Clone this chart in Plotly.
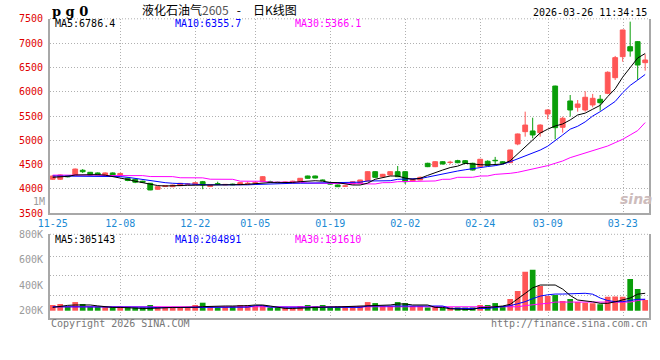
import plotly.graph_objects as go

# ---------------- data ----------------
dates = ["11-25", "11-26", "11-27", "11-28",
         "12-01", "12-02", "12-03", "12-04", "12-05",
         "12-08", "12-09", "12-10", "12-11", "12-12",
         "12-15", "12-16", "12-17", "12-18", "12-19",
         "12-22", "12-23", "12-24", "12-25", "12-26",
         "12-29", "12-30", "12-31",
         "01-05", "01-06", "01-07", "01-08", "01-09",
         "01-12", "01-13", "01-14", "01-15", "01-16",
         "01-19", "01-20", "01-21", "01-22", "01-23",
         "01-26", "01-27", "01-28", "01-29", "01-30",
         "02-02", "02-03", "02-04", "02-05", "02-06",
         "02-09", "02-10", "02-11", "02-12", "02-13",
         "02-24", "02-25", "02-26", "02-27",
         "03-02", "03-03", "03-04", "03-05", "03-06",
         "03-09", "03-10", "03-11", "03-12", "03-13",
         "03-16", "03-17", "03-18", "03-19", "03-20",
         "03-23", "03-24", "03-25", "03-26"]

opens = [4200, 4200, 4270, 4290, 4385, 4343, 4330, 4288, 4330, 4290,
         4220, 4199, 4160, 4117, 3994, 4050, 4047, 4068, 4095, 4090,
         4150, 4050, 4110, 4085, 4100, 4090, 4110, 4120, 4150, 4150,
         4140, 4130, 4130, 4150, 4267, 4267, 4185, 4120, 4082, 4055,
         4103, 4117, 4164, 4356, 4253, 4288, 4356, 4356, 4164, 4185,
         4528, 4459, 4561, 4545, 4582, 4582, 4528, 4459, 4570, 4590,
         4560, 4541, 4926, 5179, 5193, 5158, 5542, 6117, 5269, 5810,
         5680, 5625, 5728, 5845, 5968, 6289, 6721, 6927, 7030, 6598]
highs = [4280, 4300, 4285, 4420, 4410, 4350, 4340, 4340, 4340, 4330,
         4240, 4210, 4170, 4120, 4050, 4075, 4090, 4125, 4120, 4135,
         4165, 4085, 4150, 4100, 4110, 4135, 4150, 4140, 4260, 4170,
         4150, 4150, 4170, 4225, 4275, 4275, 4195, 4130, 4090, 4075,
         4160, 4190, 4360, 4365, 4310, 4365, 4473, 4365, 4210, 4255,
         4540, 4570, 4570, 4580, 4600, 4595, 4540, 4620, 4590, 4660,
         4570, 4810, 5140, 5590, 5466, 5330, 5640, 6125, 5487, 5933,
         5830, 6010, 5955, 5933, 6420, 6736, 7275, 7441, 7040, 6771]
lows = [4190, 4190, 4240, 4285, 4330, 4280, 4280, 4280, 4270, 4280,
        4160, 4120, 4130, 3975, 3990, 4045, 4040, 4060, 4085, 4085,
        3995, 4045, 4090, 4080, 4080, 4085, 4090, 4110, 4145, 4130,
        4125, 4125, 4110, 4145, 4215, 4220, 4170, 4095, 4040, 4050,
        4100, 4110, 4160, 4235, 4250, 4280, 4245, 4103, 4155, 4180,
        4450, 4450, 4505, 4510, 4530, 4520, 4380, 4450, 4475, 4515,
        4520, 4535, 4900, 5076, 5043, 5076, 5433, 5022, 5158, 5487,
        5590, 5590, 5680, 5610, 5950, 6242, 6618, 6721, 6242, 6433]
closes = [4267, 4288, 4250, 4410, 4355, 4288, 4290, 4330, 4275, 4320,
          4175, 4140, 4140, 3980, 4047, 4070, 4080, 4117, 4105, 4130,
          4082, 4080, 4095, 4095, 4085, 4130, 4118, 4130, 4253, 4135,
          4130, 4145, 4160, 4220, 4220, 4225, 4175, 4100, 4047, 4065,
          4150, 4185, 4356, 4240, 4302, 4356, 4253, 4150, 4199, 4240,
          4459, 4561, 4514, 4552, 4541, 4528, 4390, 4611, 4485, 4580,
          4530, 4802, 5131, 5315, 5111, 5315, 5625, 5261, 5454, 5625,
          5748, 5886, 5865, 5775, 6400, 6701, 7270, 6838, 6550, 6653]

ma5 = [4240, 4245, 4260, 4288, 4295, 4300, 4295, 4285, 4260, 4235,
       4195, 4160, 4130, 4097, 4070, 4062, 4062, 4068, 4075, 4078,
       4078, 4075, 4078, 4082, 4085, 4090, 4097, 4110, 4130, 4132,
       4130, 4130, 4135, 4150, 4165, 4170, 4160, 4135, 4130, 4110,
       4082, 4082, 4120, 4200, 4230, 4267, 4267, 4225, 4199, 4220,
       4280, 4340, 4390, 4440, 4470, 4528, 4510, 4500, 4494, 4500,
       4514, 4580, 4720, 4880, 5010, 5150, 5230, 5296, 5337, 5420,
       5522, 5560, 5640, 5720, 5900, 6060, 6300, 6500, 6693, 6786.4]
ma10 = [4267, 4267, 4268, 4267, 4266, 4267, 4267, 4265, 4260, 4255,
        4240, 4215, 4195, 4170, 4145, 4130, 4118, 4108, 4100, 4095,
        4090, 4086, 4083, 4082, 4082, 4082, 4085, 4092, 4100, 4105,
        4110, 4113, 4117, 4118, 4122, 4126, 4130, 4130, 4130, 4130,
        4132, 4140, 4164, 4165, 4166, 4170, 4199, 4200, 4200, 4215,
        4245, 4280, 4310, 4335, 4370, 4395, 4420, 4450, 4462, 4480,
        4510, 4560, 4620, 4680, 4730, 4800, 4880, 4990, 5111, 5230,
        5290, 5380, 5500, 5590, 5700, 5800, 5980, 6130, 6240, 6355.7]
ma30 = [4285, 4286, 4285, 4285, 4284, 4285, 4285, 4276, 4275, 4275,
        4274, 4275, 4275, 4256, 4255, 4255, 4254, 4231, 4230, 4230,
        4229, 4201, 4200, 4200, 4199, 4161, 4160, 4160, 4159, 4141,
        4140, 4140, 4140, 4139, 4121, 4120, 4119, 4104, 4103, 4103,
        4103, 4102, 4103, 4103, 4130, 4131, 4150, 4150, 4151, 4150,
        4164, 4165, 4199, 4200, 4240, 4240, 4241, 4267, 4268, 4300,
        4308, 4322, 4343, 4376, 4411, 4452, 4480, 4528, 4576, 4644,
        4693, 4734, 4782, 4837, 4884, 4953, 5022, 5111, 5200, 5366.1]

volume = [245000, 253000, 231000, 268000, 253000, 231000, 232000, 230000, 231000, 232000,
          231000, 226000, 226000, 245000, 231000, 226000, 227000, 226000, 225000, 245000,
          263000, 237000, 226000, 231000, 237000, 245000, 244000, 237000, 245000, 226000,
          226000, 227000, 226000, 237000, 245000, 237000, 245000, 226000, 237000, 236000,
          237000, 238000, 268000, 260000, 237000, 236000, 268000, 260000, 237000, 238000,
          226000, 237000, 226000, 227000, 226000, 225000, 226000, 245000, 245000, 260000,
          237000, 292000, 355000, 506000, 522000, 394000, 315000, 323000, 276000, 292000,
          268000, 262000, 258000, 250000, 310000, 311000, 310000, 449000, 370000, 284000]
vol_ma5 = [226000, 235000, 242000, 245000, 245000, 245000, 238000, 230000, 226000, 226000,
           222000, 218000, 218000, 218000, 222000, 226000, 226000, 226000, 226000, 228000,
           232000, 235000, 237000, 237000, 237000, 237000, 240000, 245000, 245000, 237000,
           226000, 218000, 218000, 218000, 222000, 226000, 230000, 230000, 230000, 232000,
           232000, 235000, 237000, 240000, 245000, 245000, 253000, 253000, 245000, 245000,
           245000, 226000, 226000, 215000, 210000, 210000, 210000, 226000, 226000, 230000,
           237000, 250000, 290000, 336000, 380000, 402000, 402000, 402000, 370000, 320000,
           284000, 278000, 270000, 258000, 258000, 270000, 285000, 300000, 330000, 337000]
vol_ma10 = [231000, 231000, 231000, 231000, 231000, 231000, 231000, 231000, 231000, 231000,
            228000, 228000, 228000, 228000, 224000, 224000, 224000, 224000, 224000, 224000,
            228000, 228000, 228000, 228000, 228000, 228000, 228000, 240000, 240000, 228000,
            228000, 228000, 228000, 228000, 228000, 228000, 228000, 226000, 226000, 226000,
            226000, 226000, 237000, 237000, 237000, 237000, 237000, 237000, 237000, 237000,
            237000, 237000, 237000, 218000, 218000, 218000, 218000, 218000, 218000, 225000,
            231000, 240000, 255000, 271000, 295000, 315000, 325000, 331000, 331000, 333000,
            335000, 337000, 330000, 300000, 280000, 271000, 271000, 280000, 290000, 290000]
vol_ma30 = [231000, 231000, 231000, 231000, 231000, 231000, 231000, 231000, 231000, 231000,
            231000, 231000, 231000, 231000, 231000, 231000, 231000, 231000, 231000, 231000,
            231000, 231000, 231000, 231000, 231000, 231000, 231000, 231000, 231000, 231000,
            231000, 231000, 231000, 231000, 231000, 231000, 231000, 226000, 226000, 226000,
            226000, 226000, 226000, 226000, 226000, 226000, 226000, 226000, 226000, 226000,
            226000, 226000, 226000, 226000, 226000, 226000, 226000, 226000, 226000, 231000,
            231000, 231000, 231000, 240000, 248000, 253000, 258000, 268000, 268000, 268000,
            268000, 268000, 268000, 268000, 268000, 268000, 268000, 268000, 280000, 290000]

date_tick_labels = ["11-25", "12-08", "12-22", "01-05", "01-19", "02-02", "02-24", "03-09", "03-23"]
price_ticks = [3500, 4000, 4500, 5000, 5500, 6000, 6500, 7000, 7500]
vol_tick_values = [200000, 400000, 600000, 800000]
vol_tick_labels = ["200K", "400K", "600K", "800K"]
vol_grid_values = [320000, 475000, 630000]
price_ma_labels = [("MA5", 6786.4), ("MA10", 6355.7), ("MA30", 5366.1)]
vol_ma_labels = [("MA5", 305143), ("MA10", 204891), ("MA30", 191610)]
title_code = "pg0"
title_name = "液化石油气"
title_contract = "2605"
title_suffix = "日K线图"
timestamp = "2026-03-26 11:34:15"

# ---------------- styling ----------------
W, H = 660, 360
PL, PR = 50, 649.3          # plot area left/right (px)
PT, PB = 18.8, 213.3        # price panel top/bottom (px)
VT, VB = 234.3, 318.0       # volume panel top/bottom (px)
VOL_BASE = 200000
VOL_RANGE = [142670, 801000]
GRID_SHIFT = 0.1

UP = "#ff5656"
DOWN = "#0a9e0a"
GRID = "#b0b0b0"
AXIS = "#a8a8a8"
MONO = "DejaVu Sans Mono"
COLORS_MA = ["#000000", "#0000ff", "#ff00ff"]


def px(v):
    return v / W


def py(v):
    return 1 - v / H


x = list(range(len(dates)))
up = [c >= o for o, c in zip(opens, closes)]
tick_pos = [dates.index(d) for d in date_tick_labels]
grid_pos = [p + GRID_SHIFT for p in tick_pos[1:]]

fig = go.Figure()

# candles: wicks + bodies
for mask, col in ((True, UP), (False, DOWN)):
    xs, ys = [], []
    for i in x:
        if up[i] == mask:
            xs += [i, i, None]
            ys += [lows[i], highs[i], None]
    fig.add_trace(go.Scatter(x=xs, y=ys, mode="lines", line=dict(color=col, width=1),
                             xaxis="x", yaxis="y", showlegend=False, hoverinfo="skip"))
    idx = [i for i in x if up[i] == mask]
    fig.add_trace(go.Bar(x=idx,
                         base=[min(opens[i], closes[i]) for i in idx],
                         y=[abs(closes[i] - opens[i]) for i in idx],
                         width=0.64,
                         marker=dict(color=col, line=dict(color=col, width=1)),
                         xaxis="x", yaxis="y", showlegend=False, hoverinfo="skip"))

# price moving averages
for series, col in ((ma30, COLORS_MA[2]), (ma10, COLORS_MA[1]), (ma5, COLORS_MA[0])):
    fig.add_trace(go.Scatter(x=x, y=series, mode="lines", line=dict(color=col, width=1),
                             xaxis="x", yaxis="y", showlegend=False, hoverinfo="skip"))

# volume bars
for mask, col in ((True, UP), (False, DOWN)):
    idx = [i for i in x if up[i] == mask]
    fig.add_trace(go.Bar(x=idx, base=VOL_BASE, y=[volume[i] - VOL_BASE for i in idx],
                         width=0.76, marker=dict(color=col, line=dict(width=0)),
                         xaxis="x2", yaxis="y2", showlegend=False, hoverinfo="skip"))

for series, col in ((vol_ma30, COLORS_MA[2]), (vol_ma10, COLORS_MA[1]), (vol_ma5, COLORS_MA[0])):
    fig.add_trace(go.Scatter(x=x, y=series, mode="lines", line=dict(color=col, width=1),
                             xaxis="x2", yaxis="y2", showlegend=False, hoverinfo="skip"))

grid_style = dict(gridcolor=GRID, griddash="1px,2px", gridwidth=1)

fig.update_layout(
    template="none",
    width=W, height=H, margin=dict(l=0, r=0, t=0, b=0, pad=0, autoexpand=False),
    paper_bgcolor="white", plot_bgcolor="white",
    barmode="overlay", hovermode=False, showlegend=False,
    xaxis=dict(domain=[px(PL), px(PR)], range=[-0.36, 79.55], anchor="y", automargin=False,
               tickmode="array", tickvals=tick_pos, ticktext=date_tick_labels,
               ticks="", showgrid=False,
               minor=dict(tickmode="array", tickvals=grid_pos, showgrid=True, **grid_style),
               tickfont=dict(family=MONO, size=10, color="#1a8ad4"),
               showline=True, linecolor=AXIS, linewidth=2, zeroline=False),
    yaxis=dict(domain=[py(PB), py(PT)], range=[3500, 7500], anchor="x", automargin=False,
               tickmode="array", tickvals=price_ticks, ticks="", ticklabelstandoff=3,
               showgrid=True, **grid_style,
               tickfont=dict(family=MONO, size=10, color="#e00000"),
               showline=True, mirror=True, linecolor=AXIS, linewidth=2, zeroline=False),
    xaxis2=dict(domain=[px(PL), px(PR)], matches="x", anchor="y2", automargin=False,
                tickmode="array", tickvals=grid_pos, showticklabels=False, ticks="",
                showgrid=True, **grid_style,
                showline=True, linecolor=AXIS, linewidth=2, zeroline=False),
    yaxis2=dict(domain=[py(VB), py(VT)], range=VOL_RANGE, anchor="x2", automargin=False,
                tickmode="array", tickvals=vol_tick_values, ticktext=vol_tick_labels, ticks="",
                ticklabelstandoff=3, showgrid=False,
                minor=dict(tickmode="array", tickvals=vol_grid_values, showgrid=True, **grid_style),
                tickfont=dict(family=MONO, size=10, color="#9a9a9a"),
                showline=True, mirror=True, linecolor=AXIS, linewidth=2, zeroline=False),
)

# dotted top borders of both panels
for xr, yr in (("x domain", "y domain"), ("x2 domain", "y2 domain")):
    fig.add_shape(type="line", xref=xr, yref=yr, x0=0, x1=1, y0=1, y1=1,
                  line=dict(color=GRID, width=1, dash="1px,2px"))


def note(text, xp, yp, anchor="left", color="#000000", size=10, family=MONO, yref="paper", yv=None):
    fig.add_annotation(text=text, xref="paper", yref=yref, x=px(xp),
                       y=py(yp) if yv is None else yv,
                       xanchor=anchor, yanchor="middle", showarrow=False,
                       font=dict(family=family, size=size, color=color))


# header
note("<b>" + " ".join(title_code) + "</b>", 50, 11, size=13, family="DejaVu Serif")
note(title_name + "<span style='color:#555555'>" + title_contract + "</span>"
     + "\u00a0\u00a0\u00a0-\u3000" + title_suffix,
     219, 9.5, anchor="center", size=12, family="Noto Sans CJK SC")
note(timestamp, 649, 12.5, anchor="right")

# MA legends
ma_label_x = [53, 173, 293]
for (name, val), col, lx in zip(price_ma_labels, COLORS_MA, ma_label_x):
    note(f"{name}:{val:.1f}", lx, 24, color=col)
for (name, val), col, lx in zip(vol_ma_labels, COLORS_MA, ma_label_x):
    note(f"{name}:{val}", lx, 239, color=col)

# extra axis unit label
note("1M", 47, 0, anchor="right", color="#9a9a9a", yref="y", yv=3750)

# footer
note("Copyright 2026 SINA.COM", 49, 323.5, color="#777777")
note("http://finance.sina.com.cn", 650, 323.5, anchor="right", color="#777777")

# watermark
note("<b><i>sina</i></b>", 636, 199, anchor="center", size=14, family="DejaVu Sans", color="#cdbcbc")

fig.write_html("out.html", config={"displayModeBar": False, "staticPlot": True},
               post_script="document.body.style.margin='0px';")
